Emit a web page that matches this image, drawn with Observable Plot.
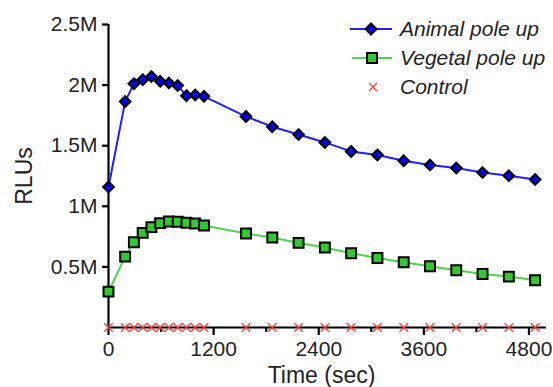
<!DOCTYPE html>
<html>
<head>
<meta charset="utf-8">
<script src="https://cdn.jsdelivr.net/npm/d3@7"></script>
<script src="https://cdn.jsdelivr.net/npm/@observablehq/plot@0.6"></script>
<style>
  body { margin: 0; background: #fff; }
  #wrap { position: relative; width: 553px; height: 387px; font-family: "Liberation Sans", Arial, sans-serif; }
  #legend { position: absolute; left: 348px; top: 14px; font-style: italic; font-size: 21px; color: #222; }
  .row { display: flex; align-items: center; height: 29px; }
  .row svg { flex: none; margin-right: 6px; }
</style>
</head>
<body>
<div id="wrap"></div>
<script>
// Time points (sec)
const times = [0, 190, 290, 390, 490, 590, 690, 790, 890, 990, 1090, 1570, 1870, 2170, 2470, 2770, 3070, 3370, 3670, 3970, 4270, 4570, 4870];
// RLUs (millions)
const animalPoleUp = [1.159, 1.864, 2.012, 2.045, 2.07, 2.031, 2.018, 1.996, 1.913, 1.919, 1.907, 1.74, 1.657, 1.593, 1.527, 1.453, 1.423, 1.376, 1.340, 1.316, 1.279, 1.252, 1.221];
const vegetalPoleUp = [0.296, 0.585, 0.704, 0.781, 0.828, 0.861, 0.874, 0.872, 0.864, 0.858, 0.841, 0.775, 0.742, 0.698, 0.660, 0.613, 0.574, 0.539, 0.506, 0.473, 0.442, 0.420, 0.390];
const control = [0, 0, 0, 0, 0, 0, 0, 0, 0, 0, 0, 0, 0, 0, 0, 0, 0, 0, 0, 0, 0, 0, 0];
const seriesNames = ["Animal pole up", "Vegetal pole up", "Control"];
const xTicks = [0, 1200, 2400, 3600, 4800];
const xMinorTicks = [600, 1800, 3000, 4200];
const yTicks = [0.5e6, 1e6, 1.5e6, 2e6, 2.5e6];

const toRows = (vals) => times.map((t, i) => ({t, v: vals[i] * 1e6}));
const animalRows = toRows(animalPoleUp);
const vegetalRows = toRows(vegetalPoleUp);
const controlRows = toRows(control);

const blueLine = "#1f1fff", blueFill = "#0000f0";
const greenLine = "#4cd64c", greenFill = "#33c733";
const red = "#ff3b3b";

const chart = Plot.plot({
  width: 553,
  height: 387,
  marginLeft: 108,
  marginRight: 7,
  marginTop: 24,
  marginBottom: 60,
  style: {fontFamily: '"Liberation Sans", Arial, sans-serif', fontSize: "21px", color: "#222", background: "white"},
  x: {domain: [0, 5000]},
  y: {domain: [0, 2.5e6]},
  marks: [
    Plot.ruleX([0], {strokeWidth: 2.2, stroke: "#000"}),
    Plot.ruleY([0], {strokeWidth: 2.2, stroke: "#000"}),
    Plot.axisX({ticks: xTicks, tickSize: 8, tickPadding: 6, tickFormat: d => String(d), label: null, strokeWidth: 2.2, stroke: "#000", fontSize: 21}),
    Plot.axisX({ticks: xMinorTicks, tickSize: 5, tickFormat: () => "", label: null, strokeWidth: 2.2, stroke: "#000"}),
    Plot.axisY({ticks: yTicks, tickSize: 6, tickPadding: 5, tickFormat: d => (d / 1e6) + "M", label: null, strokeWidth: 2.2, stroke: "#000", fontSize: 21}),
    Plot.line(vegetalRows, {x: "t", y: "v", stroke: greenLine, strokeWidth: 2}),
    Plot.line(animalRows, {x: "t", y: "v", stroke: blueLine, strokeWidth: 2}),
    Plot.dot(controlRows, {x: "t", y: "v", symbol: "times", r: 4, stroke: red, strokeWidth: 1.3}),
    Plot.dot(vegetalRows, {x: "t", y: "v", symbol: "square", r: 5.6, fill: greenFill, stroke: "#000", strokeWidth: 2}),
    Plot.dot(animalRows, {x: "t", y: "v", symbol: "diamond2", r: 4.8, fill: blueFill, stroke: "#000", strokeWidth: 2}),
    Plot.text(["Time (sec)"], {frameAnchor: "bottom", dy: 55, dx: -6, fontSize: 23, fill: "#222"}),
    Plot.text(["RLUs"], {frameAnchor: "left", textAnchor: "middle", rotate: -90, dx: -84, fontSize: 23, fill: "#222"})
  ]
});

const wrap = document.getElementById("wrap");
wrap.appendChild(chart);

// Legend overlay
const swatches = [
  `<svg width="46" height="20"><line x1="2" y1="10" x2="44" y2="10" stroke="${blueLine}" stroke-width="2"/><path d="M23,4.5L28.5,10L23,15.5L17.5,10Z" fill="${blueFill}" stroke="#000" stroke-width="2"/></svg>`,
  `<svg width="46" height="20"><line x1="4" y1="10" x2="44" y2="10" stroke="${greenLine}" stroke-width="2"/><rect x="19" y="5" width="10" height="10" fill="${greenFill}" stroke="#000" stroke-width="2"/></svg>`,
  `<svg width="46" height="20"><path d="M21,6L29,14M29,6L21,14" stroke="${red}" stroke-width="1.3"/></svg>`
];
const legend = document.createElement("div");
legend.id = "legend";
legend.innerHTML = seriesNames.map((n, i) => `<div class="row">${swatches[i]}<span>${n}</span></div>`).join("");
wrap.appendChild(legend);
</script>
</body>
</html>
